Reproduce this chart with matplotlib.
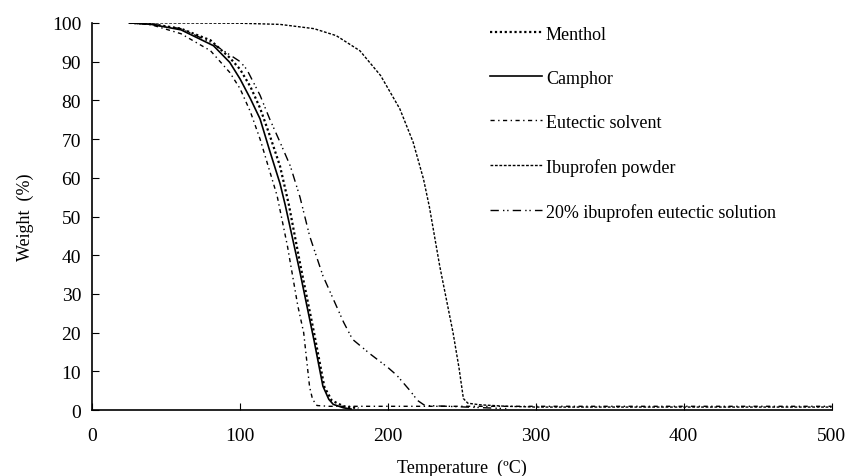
import matplotlib
matplotlib.use("Agg")
import matplotlib.pyplot as plt

plt.rcParams['font.family'] = ['Liberation Serif', 'DejaVu Serif']

# TGA curves
menthol_t = [25, 40, 60, 80, 93, 100, 107, 113.5, 120, 127, 133, 141, 150, 157, 162, 170, 180]
menthol_w = [100, 99.7, 98.5, 95.5, 91, 88, 83.5, 78, 71, 63, 53, 37, 20, 6, 2.5, 1, 0.5]

camphor_t = [25, 40, 60, 82, 93, 100, 107, 113.5, 120, 127, 130.5, 140.5, 150, 156, 160,
             163, 170, 175]
camphor_w = [100, 99.6, 98.2, 94.1, 89.8, 85.5, 80.4, 75.2, 67, 58.5, 53, 35.6, 18, 6.2, 2.8,
             1.5, 0.6, 0.3]

eutectic_t = [25, 40, 60, 80, 93, 100, 107, 113.5, 119, 125, 132, 139, 143, 147, 149, 152,
              160, 200, 300, 500]
eutectic_w = [100, 99.5, 97.2, 92.8, 87.2, 83, 77, 70, 63, 55.4, 42.4, 27, 20, 6, 2.8, 1.2,
              1, 1, 1, 1]

ibu_t = [25, 100, 127, 150, 165, 181, 195, 208, 217, 224, 228, 235, 244, 248, 251, 254, 262,
         280, 300, 500]
ibu_w = [100, 99.9, 99.6, 98.5, 96.7, 92.8, 86.4, 77.8, 69.2, 59.7, 52.5, 37.2, 20, 11, 3,
         1.8, 1.4, 1, 0.8, 0.8]

sol_t = [25, 40, 60, 80, 100, 104.5, 113.5, 120, 127, 134, 140.5, 147, 156, 163, 170, 176,
         188, 200, 206, 215, 220, 225, 240, 280]
sol_w = [100, 99.7, 98.5, 95, 90, 88, 81.3, 75.2, 69.2, 63, 55, 45, 34.7, 28.7, 22.7, 18.3,
         14.5, 11, 9, 5, 2.5, 1.2, 1, 0.4]

fig = plt.figure(figsize=(8.46, 4.77), dpi=100)
ax = fig.add_axes([0.109, 0.138, 0.874, 0.812])

ax.plot(menthol_t, menthol_w, color='black', lw=1.6, ls=(0, (1, 1.2)), label='Menthol')
ax.plot(camphor_t, camphor_w, color='black', lw=1.2, ls='-', label='Camphor')
ax.plot(eutectic_t, eutectic_w, color='black', lw=1.0, ls=(0, (3, 2.5, 1, 2.5)),
        label='Eutectic solvent')
ax.plot(ibu_t, ibu_w, color='black', lw=1.0, ls=(0, (2, 1.2)), label='Ibuprofen powder')
ax.plot(sol_t, sol_w, color='black', lw=1.0, ls=(0, (6, 3, 1, 2, 1, 3)),
        label='20% ibuprofen eutectic solution')

ax.set_xlim(0, 500)
ax.set_ylim(0, 100)
ax.set_xticks(range(0, 501, 100))
ax.set_yticks(range(0, 101, 10))
ax.tick_params(direction='in', length=5, labelsize=14)
ax.tick_params(axis='x', pad=12)
ax.tick_params(axis='y', pad=8)
ax.spines['top'].set_visible(False)
ax.spines['right'].set_visible(False)
ax.spines['left'].set_linewidth(1.2)
ax.spines['bottom'].set_linewidth(1.2)

ax.set_xlabel('Temperature  (ºC)', fontsize=13, labelpad=11)
ax.set_ylabel('Weight  (%)', fontsize=13, labelpad=13)

ax.legend(loc='upper left', bbox_to_anchor=(0.516, 1.035), frameon=False, fontsize=13,
          handlelength=2.9, handletextpad=0.2, labelspacing=1.5)

fig.savefig('out.png', dpi=100)
